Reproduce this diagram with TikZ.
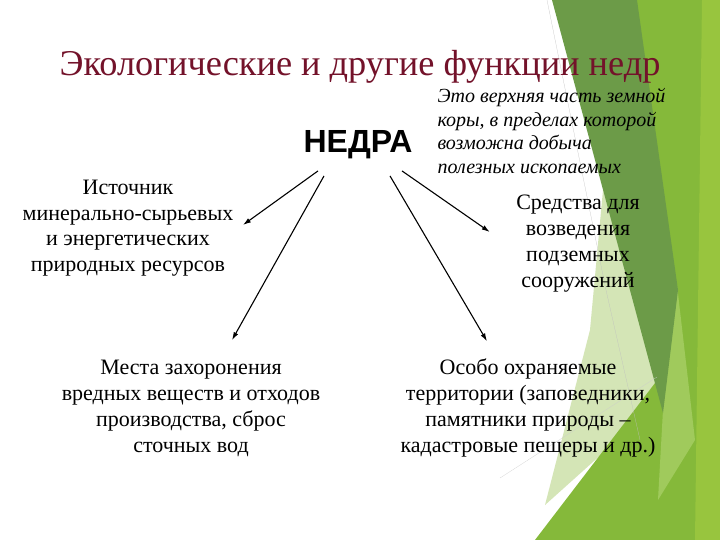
\documentclass[tikz,border=0pt]{standalone}
\usepackage{fontspec}
\setmainfont{Liberation Serif}
\newfontfamily\headfont{Liberation Sans}
\usepackage{xcolor}
\usetikzlibrary{calc,arrows.meta,positioning}
\definecolor{titlered}{RGB}{115,18,42}
\definecolor{leafdark}{RGB}{108,155,72}
\definecolor{leaf}{RGB}{133,185,58}
\definecolor{leaflight}{RGB}{152,197,62}
\definecolor{leafmid}{RGB}{160,202,92}
\definecolor{leafpale}{RGB}{212,229,182}

\begin{document}
\begin{tikzpicture}[x=1pt,y=-1pt,
      every node/.style={font=\fontsize{22}{26}\selectfont,inner sep=0pt},
      b/.style={align=center},
      >={Latex[length=8pt,width=5pt]},line width=1.1pt]
      \useasboundingbox[fill=white] (0,0) rectangle (720,540);
      \fill[leafpale] (603,190) -- (650,350) -- (662,400) -- (545,505) -- (590,330) -- cycle;
      \fill[leaf] (600,0) -- (720,0) -- (720,540) -- (535,540) -- (665,370) -- cycle;
      \fill[leafmid] (677,285) -- (695,440) -- (658,500) -- (663,410) -- cycle;
      \fill[leaflight] (702,0) -- (720,0) -- (720,540) -- (695,540) -- cycle;
      \fill[leafdark] (552,0) -- (637,0) -- (678,290) -- (663,413) -- cycle;
      \draw[black!25,very thin] (547,0) -- (606,290) -- (640,440);
      \draw[black!20,very thin] (500,478) -- (657,377);
      \node[anchor=base,font=\fontsize{36.3}{40}\selectfont,text=titlered] (title) at (360,76) {Экологические и другие функции недр};
      \node[anchor=base,font=\headfont\bfseries\fontsize{32}{32}\selectfont] (nedra) at (358,153) {НЕДРА};
      \node[anchor=west,align=left,font=\itshape\fontsize{20}{23.5}\selectfont] (def) at (437,131) {Это верхняя часть земной\\коры, в пределах которой\\возможна добыча\\полезных ископаемых};
      \node[b,font=\fontsize{22}{25.5}\selectfont] (src) at (128,228) {Источник\\минерально-сырьевых\\и энергетических\\природных ресурсов};
      \node[b] (build) at (578,244) {Средства для\\возведения\\подземных\\сооружений};
      \node[b] (waste) at (191,408) {Места захоронения\\вредных веществ и отходов\\производства, сброс\\сточных вод};
      \node[b] (park) at (528,408) {Особо охраняемые\\территории (заповедники,\\памятники природы --\\кадастровые пещеры и др.)};
      \draw[->] ([xshift=-40pt,yshift=-11pt]nedra.south) -- ([xshift=9pt,yshift=3pt]src.east);
      \draw[->] ([xshift=-34pt,yshift=-16pt]nedra.south) -- ([xshift=41pt,yshift=19pt]waste.north);
      \draw[->] ([xshift=32pt,yshift=-16pt]nedra.south) -- ([xshift=-41pt,yshift=17pt]park.north);
      \draw[->] ([xshift=44pt,yshift=-11pt]nedra.south) -- ([xshift=-26pt,yshift=12pt]build.west);
    \end{tikzpicture}
\end{document}
